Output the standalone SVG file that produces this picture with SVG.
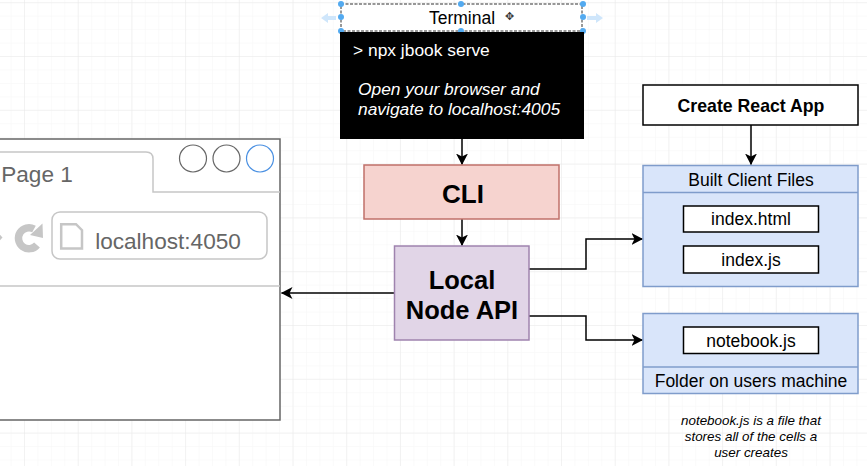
<svg xmlns="http://www.w3.org/2000/svg" width="867" height="466" viewBox="0 0 867 466">
<style>
text{font-family:"Liberation Sans",Arial,sans-serif;text-anchor:middle;fill:#000}
.c{fill:none;stroke:#000;stroke-width:1.5}
.w{fill:#fff;stroke:#000;stroke-width:1.5}
.b{fill:#d9e5fa;stroke:#7f9ccb;stroke-width:1.5}
.h{fill:#53aaf0}
.g{fill:none;stroke:#c6c6c6;stroke-width:1.5}
</style>
<defs>
<pattern id="minor" x="-28.700" y="3.200" width="13.425" height="13.450" patternUnits="userSpaceOnUse"><path d="M13.425 0V13.450H0" fill="none" stroke="#f6f6f6" stroke-width="1"/></pattern>
<pattern id="major" x="-28.700" y="3.200" width="53.700" height="53.800" patternUnits="userSpaceOnUse"><path d="M53.700 0V53.800H0" fill="none" stroke="#e9e9e9" stroke-width="1"/></pattern>
<marker id="a" markerWidth="13" markerHeight="14" refX="11" refY="7" orient="auto" markerUnits="userSpaceOnUse"><path d="M0 1L11.500 7L0 13L3 7Z" fill="#000"/></marker>
</defs>
<rect width="867" height="466" fill="#fff"/>
<rect width="867" height="466" fill="url(#minor)"/>
<rect width="867" height="466" fill="url(#major)"/>
<g id="connectors">
<path class="c" marker-end="url(#a)" d="M462 139V164.500"/>
<path class="c" marker-end="url(#a)" d="M462 219V245.500"/>
<path class="c" marker-end="url(#a)" d="M394 293H281.500"/>
<path class="c" marker-end="url(#a)" d="M529 269H586V239H642.500"/>
<path class="c" marker-end="url(#a)" d="M529 316H586V340H642.500"/>
<path class="c" marker-end="url(#a)" d="M751 125V164.500"/>
</g>
<g id="browser">
<path d="M-2 139H280V420H-2" fill="#fff" stroke="#666" stroke-width="1.500"/>
<path class="g" d="M-2 152H146Q153 152 153 159V192H280"/>
<path class="g" d="M-2 286H280"/>
<text x="37" y="182" font-size="22.600" style="fill:#666">Page 1</text>
<circle cx="193" cy="158.500" r="13.500" fill="#fff" stroke="#666" stroke-width="1.200"/>
<circle cx="226.500" cy="158.500" r="13.500" fill="#fff" stroke="#666" stroke-width="1.200"/>
<circle cx="260" cy="158.500" r="13.500" fill="#fff" stroke="#4a90e2" stroke-width="1.200"/>
<path d="M-1 233.500L2.500 237.500L-1 241.500Z" fill="#c6c6c6"/>
<path d="M37 245A10.500 10.500 0 1 1 34 229" fill="none" stroke="#c6c6c6" stroke-width="7.500"/>
<path d="M42.500 223.500L43 238L30 235Z" fill="#c6c6c6"/>
<rect x="52" y="212" width="215" height="47" rx="8" fill="#fff" stroke="#c6c6c6" stroke-width="1.500"/>
<path d="M61.200 224.200H76L82 230.200V248.500H61.200Z" fill="none" stroke="#c6c6c6" stroke-width="2.500"/>
<text x="168" y="249" font-size="22.600" style="fill:#666">localhost:4050</text>
</g>
<g id="terminal">
<rect x="341" y="4" width="241" height="27" fill="#fff" stroke="#333" stroke-width="1" stroke-dasharray="3 1.500"/>
<text x="462" y="24" font-size="17.500">Terminal</text>
<text x="509" y="20" font-size="11" style="fill:#333">✥</text>
<path d="M321 18L328 13V16H336V20H328V23Z M603 18L596 13V16H587V20H596V23Z" fill="#cfe6fb"/>
<g class="h"><circle cx="341" cy="4" r="3"/><circle cx="461" cy="4" r="3"/><circle cx="583" cy="4" r="3"/><circle cx="341" cy="17" r="3"/><circle cx="583" cy="17" r="3"/><circle cx="341" cy="31" r="3"/><circle cx="461" cy="31" r="3"/><circle cx="583" cy="31" r="3"/></g>
</g>
<g id="console">
<rect x="340" y="32" width="244" height="107" fill="#000"/>
<text x="353" y="56" font-size="17.400" style="fill:#fff;text-anchor:start">&gt; npx jbook serve</text>
<text x="358" y="95" font-size="17.400" font-style="italic" style="fill:#fff;text-anchor:start">Open your browser and</text>
<text x="358" y="115" font-size="17.400" font-style="italic" style="fill:#fff;text-anchor:start">navigate to localhost:4005</text>
</g>
<g id="cli">
<rect x="364" y="165" width="195" height="54" fill="#f6d3cf" stroke="#c0706a" stroke-width="1.500"/>
<text x="463" y="203" font-size="26" font-weight="bold">CLI</text>
</g>
<g id="api">
<rect x="394.500" y="246" width="134.500" height="94" fill="#e1d5e7" stroke="#9f83ae" stroke-width="1.500"/>
<text x="462" y="289" font-size="25.500" font-weight="bold">Local</text>
<text x="462" y="319" font-size="25.500" font-weight="bold">Node API</text>
</g>
<g id="cra">
<rect class="w" x="643" y="85" width="215" height="40"/>
<text x="751" y="112" font-size="17.700" font-weight="bold">Create React App</text>
</g>
<g id="built">
<rect class="b" x="643" y="165.500" width="215" height="121"/>
<path class="b" d="M643 192.500H858"/>
<text x="751" y="185.500" font-size="17.500">Built Client Files</text>
</g>
<g id="indexhtml">
<rect class="w" x="683.500" y="206" width="135" height="26"/>
<text x="751" y="225" font-size="17.500">index.html</text>
</g>
<g id="indexjs">
<rect class="w" x="683.500" y="246" width="135" height="27"/>
<text x="751" y="266" font-size="17.500">index.js</text>
</g>
<g id="folder">
<rect class="b" x="643" y="313.500" width="215" height="80"/>
<path class="b" d="M643 367H858"/>
<text x="751" y="387" font-size="17.500">Folder on users machine</text>
</g>
<g id="notebook">
<rect class="w" x="683.500" y="327" width="135" height="26.500"/>
<text x="751" y="347" font-size="17.500">notebook.js</text>
</g>
<g id="note" font-size="13.400" font-style="italic">
<text x="751" y="425">notebook.js is a file that</text>
<text x="751" y="441">stores all of the cells a</text>
<text x="751" y="457">user creates</text>
</g>
</svg>
